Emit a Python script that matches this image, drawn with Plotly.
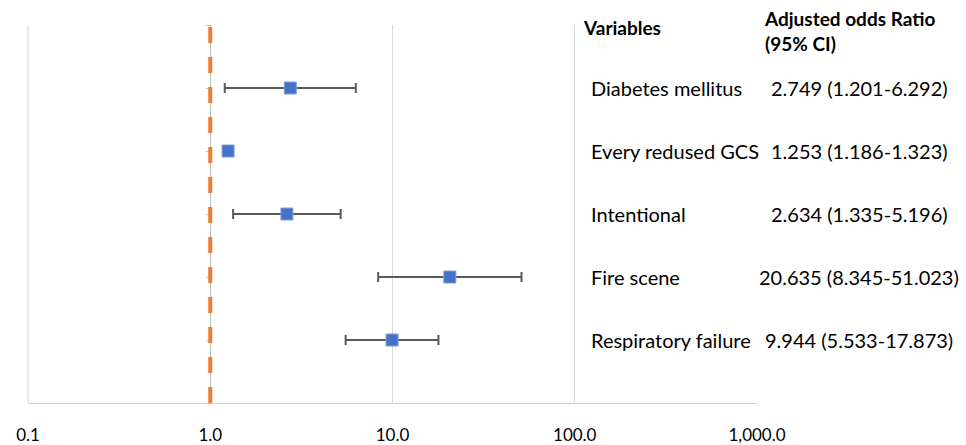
import plotly.graph_objects as go

variables = ["Diabetes mellitus", "Every redused GCS", "Intentional", "Fire scene", "Respiratory failure"]
odds_ratio = [2.749, 1.253, 2.634, 20.635, 9.944]
ci_low = [1.201, 1.186, 1.335, 8.345, 5.533]
ci_high = [6.292, 1.323, 5.196, 51.023, 17.873]
row_pos = [5, 4, 3, 2, 1]
value_text = ["2.749 (1.201-6.292)", "1.253 (1.186-1.323)", "2.634 (1.335-5.196)",
              "20.635 (8.345-51.023)", "9.944 (5.533-17.873)"]
x_tickvals = [0.1, 1, 10, 100, 1000]
x_ticktext = ["0.1", "1.0", "10.0", "100.0", "1,000.0"]
ref_x = [1, 1]
ref_y = [0, 6]

FONT = "Lato"
FS = 20

fig = go.Figure()
fig.add_trace(go.Scatter(
    x=ref_x, y=ref_y, mode="lines",
    line=dict(color="#ED7D31", width=4, dash="16px,14px"),
    hoverinfo="skip", showlegend=False))
fig.add_trace(go.Scatter(
    x=odds_ratio, y=row_pos, mode="markers",
    marker=dict(symbol="square", size=12, color="#4472C4", line=dict(color="#7d9ddb", width=1)),
    error_x=dict(type="data", symmetric=False,
                 array=[h - o for h, o in zip(ci_high, odds_ratio)],
                 arrayminus=[o - l for o, l in zip(odds_ratio, ci_low)],
                 color="#595959", thickness=2, width=5),
    showlegend=False))

L, R, T, B = 28, 209, 25, 42
W, H = 966, 445
pw = W - L - R

def px_to_paper(px):
    return (px - L) / pw

def px_to_y(py):
    return (403 - py) / 63

annotations = []
for v, y, t in zip(variables, row_pos, value_text):
    annotations.append(dict(x=px_to_paper(589), y=y, xref="paper", yref="y", text=v,
                            showarrow=False, xanchor="left", yanchor="middle",
                            font=dict(family=FONT, size=FS, color="#000000")))
    annotations.append(dict(x=px_to_paper(859), y=y, xref="paper", yref="y", text=t,
                            showarrow=False, xanchor="center", yanchor="middle",
                            font=dict(family=FONT, size=FS, color="#000000")))
annotations.append(dict(x=px_to_paper(581), y=px_to_y(27), xref="paper", yref="y",
                        text="<b>Variables</b>", showarrow=False, xanchor="left", yanchor="middle",
                        font=dict(family=FONT, size=FS - 1, color="#000000")))
annotations.append(dict(x=px_to_paper(762), y=px_to_y(31), xref="paper", yref="y",
                        text="<b>Adjusted odds Ratio</b><br><b>(95% CI)</b>", showarrow=False,
                        xanchor="left", yanchor="middle", align="left",
                        font=dict(family=FONT, size=FS - 1, color="#000000")))

fig.update_layout(
    width=W, height=H,
    margin=dict(l=L, r=R, t=T, b=B, autoexpand=False),
    paper_bgcolor="white", plot_bgcolor="white",
    annotations=annotations,
    xaxis=dict(type="log", range=[-1, 3], tickvals=x_tickvals, ticktext=x_ticktext,
               showgrid=True, gridcolor="#d9d9d9", gridwidth=1, automargin=False,
               showline=True, linecolor="#d0d0d0", linewidth=1, mirror=False,
               zeroline=False, ticks="", ticklabelstandoff=17, layer="below traces",
               tickfont=dict(family=FONT, size=17, color="#000000")),
    yaxis=dict(range=[0, 6], showgrid=False, zeroline=False, showticklabels=False,
               anchor="free", position=0.25, showline=True, linecolor="#bfbfbf", linewidth=1,
               ticks="outside", ticklen=4, tickcolor="#bfbfbf", automargin=False,
               layer="below traces", tickvals=[0, 1, 2, 3, 4, 5, 6]),
)
fig.add_shape(type="line", xref="paper", yref="paper", x0=0, x1=0, y0=0, y1=1,
              line=dict(color="#d9d9d9", width=1), layer="below")

fig.write_html("out.html")
